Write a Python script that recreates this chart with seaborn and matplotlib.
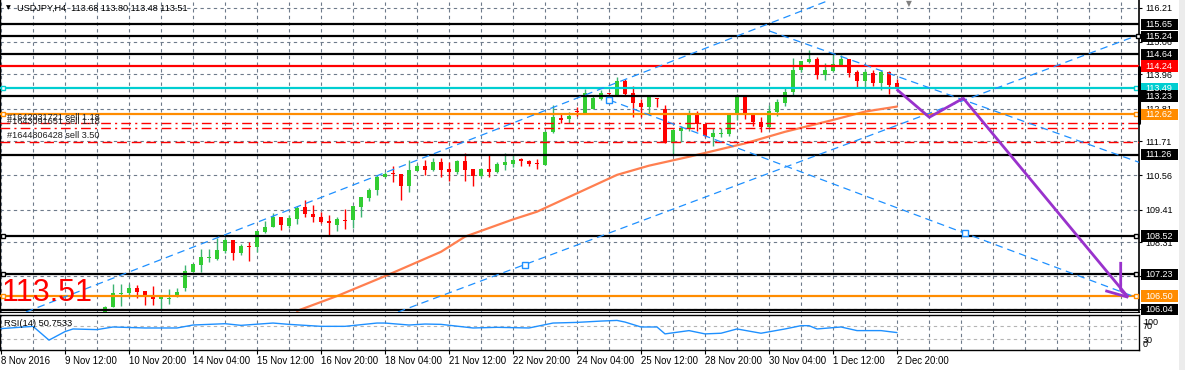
import numpy as np
import pandas as pd
import matplotlib
matplotlib.use("Agg")
import matplotlib.pyplot as plt
import seaborn as sns
from matplotlib.patches import Rectangle

# ---------------- data ----------------
title_text = "USDJPY,H4  113.68 113.80 113.48 113.51"
first_bar = 13  # index of the first visible candle (bar 0 = 8 Nov 2016)
opens = [105.90, 106.12, 106.57, 106.59, 106.77, 106.67, 106.50, 106.39, 106.41, 106.50,
         106.78, 107.32, 107.55, 107.79, 107.76, 108.03, 108.39, 107.96, 108.17, 108.16,
         108.67, 108.81, 109.16, 108.87, 109.10, 109.49, 109.26, 109.16, 109.03, 108.89,
         109.07, 109.06, 109.51, 109.80, 110.07, 110.52, 110.64, 110.61, 110.22, 110.72,
         110.88, 110.74, 111.02, 110.77, 110.67, 111.05, 110.77, 110.54, 110.77, 110.67,
         110.91, 110.95, 111.11, 111.05, 110.99, 110.91, 112.03, 112.49, 112.46, 112.72,
         112.65, 112.79, 113.12, 113.31, 113.27, 113.74, 113.33, 112.99, 112.85, 113.16,
         112.79, 111.67, 112.07, 112.11, 112.60, 112.29, 111.87, 111.97, 111.95, 112.60,
         113.19, 112.60, 112.35, 112.20, 112.71, 112.99, 113.36, 114.11, 114.39, 114.47,
         113.94, 114.09, 114.26, 114.47, 114.05, 113.75, 114.00, 113.66, 114.05, 113.68]
highs = [106.16, 106.91, 106.91, 106.91, 106.87, 106.67, 106.84, 106.46, 106.74, 106.77,
         107.55, 107.58, 108.08, 108.10, 108.44, 108.44, 108.39, 108.25, 108.31, 108.69,
         109.03, 109.29, 109.16, 109.23, 109.53, 109.73, 109.57, 109.34, 109.23, 109.15,
         109.42, 109.53, 109.82, 110.13, 110.58, 110.69, 110.88, 110.61, 111.08, 110.94,
         111.08, 111.14, 111.14, 111.02, 111.08, 111.31, 110.77, 110.80, 111.25, 111.02,
         111.31, 111.25, 111.16, 111.08, 111.10, 112.05, 112.93, 112.65, 112.71, 112.88,
         113.46, 113.27, 113.44, 113.35, 113.86, 113.80, 113.57, 113.12, 113.21, 113.16,
         112.92, 112.09, 112.23, 112.76, 112.73, 112.29, 112.17, 112.17, 112.65, 113.30,
         113.19, 112.60, 112.52, 112.93, 113.12, 113.49, 114.50, 114.41, 114.78, 114.54,
         114.34, 114.67, 114.62, 114.47, 114.11, 114.11, 114.11, 114.11, 114.09, 113.80]
lows = [105.85, 106.12, 106.17, 106.48, 106.42, 106.20, 106.20, 106.03, 106.23, 106.48,
        106.68, 107.32, 107.32, 107.66, 107.71, 107.96, 107.71, 107.88, 107.69, 107.97,
        108.61, 108.81, 108.72, 108.78, 108.93, 109.17, 109.00, 108.95, 108.52, 108.70,
        108.76, 108.78, 109.17, 109.71, 109.90, 110.50, 110.35, 109.73, 110.02, 110.72,
        110.58, 110.72, 110.50, 110.39, 110.61, 110.39, 110.21, 110.52, 110.50, 110.63,
        110.74, 110.86, 110.88, 110.88, 110.78, 110.91, 111.98, 112.32, 112.34, 112.55,
        112.65, 112.79, 113.10, 113.24, 113.25, 113.25, 112.52, 112.52, 112.60, 112.85,
        111.67, 111.28, 111.68, 112.07, 112.07, 111.84, 111.56, 111.87, 111.89, 112.43,
        112.45, 112.23, 112.01, 112.11, 112.56, 112.90, 113.27, 114.05, 114.36, 113.81,
        113.77, 114.05, 114.26, 113.89, 113.49, 113.53, 113.57, 113.44, 113.29, 113.48]
closes = [106.14, 106.59, 106.61, 106.77, 106.65, 106.48, 106.39, 106.46, 106.44, 106.64,
          107.34, 107.58, 107.80, 107.81, 108.05, 108.39, 107.96, 108.18, 108.15, 108.69,
          108.82, 109.16, 108.90, 109.13, 109.45, 109.27, 109.15, 109.00, 108.95, 109.08,
          109.04, 109.53, 109.82, 110.07, 110.52, 110.61, 110.60, 110.22, 110.74, 110.88,
          110.74, 111.02, 110.74, 110.69, 111.05, 110.74, 110.54, 110.77, 110.67, 110.95,
          111.02, 111.08, 111.06, 110.95, 110.95, 112.03, 112.54, 112.44, 112.56, 112.70,
          113.33, 113.18, 113.35, 113.30, 113.74, 113.30, 113.01, 112.85, 113.21, 113.15,
          111.67, 112.09, 112.17, 112.65, 112.29, 111.89, 112.00, 111.98, 112.60, 113.19,
          112.60, 112.35, 112.20, 112.73, 113.04, 113.36, 114.11, 114.41, 114.47, 113.94,
          114.11, 114.30, 114.47, 114.02, 113.75, 114.05, 113.66, 114.05, 113.61, 113.51]

# moving average (orange) sampled along the curve
ma_idx = [37, 42, 48, 55, 58, 64, 67, 72, 77, 81, 86, 93, 98, 104, 108, 112]
ma_val = [106.00, 106.50, 107.17, 107.99, 108.50, 109.08, 109.34, 109.96, 110.58,
          110.89, 111.19, 111.64, 112.03, 112.43, 112.71, 112.88]

# RSI(14) sampled along the curve
rsi_idx = [0, 4, 6, 8, 9, 12, 14, 18, 22, 24, 28, 30, 34, 36, 40, 43, 47, 48, 51, 53, 55,
           59, 62, 66, 67, 69, 72, 75, 77, 78, 80, 82, 83, 86, 88, 90, 92, 95, 98, 100,
           101, 102, 105, 107, 110, 112]
rsi_val = [63, 70, 28, 54, 62, 60, 68, 65, 65, 74, 78, 73, 80, 76, 70, 70, 80, 80, 74, 77,
           76, 65, 67, 65, 70, 80, 82, 86, 88, 83, 68, 68, 47, 57, 47, 49, 62, 49, 62, 72,
           72, 62, 68, 57, 57, 51]
rsi_label = "RSI(14) 50.7533"
rsi_axis_labels = ["100", "70", "30", "0"]

date_labels = ["8 Nov 2016", "9 Nov 12:00", "10 Nov 20:00", "14 Nov 04:00", "15 Nov 12:00",
               "16 Nov 20:00", "18 Nov 04:00", "21 Nov 12:00", "22 Nov 20:00", "24 Nov 04:00",
               "25 Nov 12:00", "28 Nov 20:00", "30 Nov 04:00", "1 Dec 12:00", "2 Dec 20:00"]

grid_prices = [116.21, 115.06, 113.96, 112.81, 111.71, 110.56, 109.41, 108.31, 107.16, 106.06]
level_prices = [115.65, 115.24, 114.64, 114.24, 113.49, 113.23, 112.62, 111.26,
                108.52, 107.23, 106.50, 106.04]
level_colors = ["black", "black", "black", "#FF0000", "#00CED1", "black", "#FF8C00", "black",
                "black", "black", "#FF8C00", "black"]
order_prices = [112.34, 112.16, 111.68]
order_texts = ["#1642931721 sell 1.18", "#1643091651 sell 1.18", "#1644806428 sell 3.50"]
big_price_text = "113.51"

# channel / trend lines: (bar index, price) anchors
lineA = ([11.125, 103.625], [106.80, 116.47])   # infinite
lineB = ([50.29, 141.10], [106.03, 115.18])     # infinite
lineC = ([76.04, 120.54], [113.10, 108.61])     # ray from first anchor
lineD = ([96.10, 142.40], [115.42, 110.99])     # ray from first anchor
lineB_marker = (65.54, 107.56)

# purple projection arrow
arrow_idx = [111.96, 116.04, 120.29, 140.90]
arrow_price = [113.46, 112.52, 113.16, 106.46]
barb1_idx = [139.96, 139.96, 140.90]
barb1_price = [107.65, 106.70, 106.46]
barb2_idx = [138.04, 140.90]
barb2_price = [106.68, 106.46]

# ---------------- layout ----------------
W, H = 1185, 370
XMIN, XMAX = -0.125, 142.25
YMIN, YMAX = 105.963, 116.468
MAIN_H = 312
PLOT_W = 1139

sns.set_theme(style="white")
plt.rcParams['font.family'] = ['Liberation Sans', 'DejaVu Sans']

fig = plt.figure(figsize=(W / 100, H / 100), dpi=100)
fig.patch.set_facecolor("white")
ax = fig.add_axes([0, 1 - MAIN_H / H, PLOT_W / W, MAIN_H / H])
rax = fig.add_axes([0, 1 - 350 / H, PLOT_W / W, 35.5 / H])


def py2p(y):
    return YMAX - y / MAIN_H * (YMAX - YMIN)


GRID_KW = dict(color="#6E7B8B", linestyle=(0, (3, 3)), linewidth=0.8)

# ---- main pane ----
ax.set_xlim(XMIN, XMAX)
ax.set_ylim(YMIN, YMAX)
ax.set_facecolor("white")
ax.set_xticks(np.arange(0, 141, 4))
ax.tick_params(axis="x", length=0, labelbottom=False)
ax.yaxis.tick_right()
ax.set_yticks(grid_prices)
ax.set_yticklabels([f"{p:.2f}" for p in grid_prices])
ax.tick_params(axis="y", direction="out", length=2.2, width=0.8, pad=2.6,
               labelsize=6.5, colors="black", right=True, left=False)
ax.grid(True, which="major", **GRID_KW)
ax.set_axisbelow(True)
for s in ["left", "right", "bottom"]:
    ax.spines[s].set_visible(True)
    ax.spines[s].set_color("black")
ax.spines["left"].set_linewidth(1.0)
ax.spines["right"].set_linewidth(1.2)
ax.spines["bottom"].set_linewidth(0.8)
ax.spines["top"].set_visible(False)

# candles
idx = np.arange(first_bar, first_bar + len(opens))
df = pd.DataFrame(dict(i=idx, o=opens, h=highs, l=lows, c=closes))
up = (df.c >= df.o).to_numpy()
body_col = np.where(up, "#32CD32", "#FF0000")
wick_col = np.where(up, "#3CB371", "#FF0000")
ax.vlines(df.i, df.l, df.h, colors=wick_col, linewidth=1.0, zorder=3)
ax.bar(df.i, np.maximum((df.c - df.o).abs(), 0.035), bottom=np.minimum(df.o, df.c),
       width=0.62, color=body_col, linewidth=0, zorder=3)

# moving average
sns.lineplot(x=ma_idx, y=ma_val, ax=ax, color="#FF7F50", linewidth=1.6, zorder=3.5,
             legend=False)

# horizontal levels
for p, c in zip(level_prices, level_colors):
    ax.axhline(p, color=c, linewidth=1.6, zorder=4)
order_styles = [(0, (7, 3, 1.5, 3)), (0, (7, 3, 1.5, 3)), (0, (7, 3.5))]
for p, ls in zip(order_prices, order_styles):
    ax.axhline(p, color="#FF0000", linewidth=1.0, linestyle=ls, zorder=4)

# level end markers
sq_kw = dict(marker="s", markersize=3.4, markerfacecolor="white", markeredgewidth=1.0,
             linestyle="none", zorder=6, clip_on=False)
left_sq = [113.49, 112.62, 108.52, 107.23, 106.50]
for p in left_sq:
    c = level_colors[level_prices.index(p)]
    ax.plot([0.25], [p], markeredgecolor=c, **sq_kw)
    ax.plot([141.85], [p], markeredgecolor=c, **sq_kw)
ax.plot([142.1], [115.24], markeredgecolor="black", **sq_kw)

# blue dashed channel lines
blue_kw = dict(color="#1E90FF", linewidth=0.9, linestyle=(0, (6, 4)), zorder=4)
ax.axline((lineA[0][0], lineA[1][0]), (lineA[0][1], lineA[1][1]), **blue_kw)
ax.axline((lineB[0][0], lineB[1][0]), (lineB[0][1], lineB[1][1]), **blue_kw)
for ln in (lineC, lineD):
    (x0, x1), (p0, p1) = ln
    slope = (p1 - p0) / (x1 - x0)
    ax.plot([x0, XMAX], [p0, p0 + slope * (XMAX - x0)], **blue_kw)
bsq = dict(marker="s", markersize=4.2, markerfacecolor="white", markeredgecolor="#1E90FF",
           markeredgewidth=1.0, linestyle="none", zorder=5)
ax.plot([lineC[0][0]], [lineC[1][0]], **bsq)
ax.plot([lineC[0][1]], [lineC[1][1]], **bsq)
ax.plot([lineB_marker[0]], [lineB_marker[1]], **bsq)

# purple arrow
pur = dict(color="#9932CC", linewidth=2.0, zorder=5, solid_capstyle="butt")
ax.plot(arrow_idx, arrow_price, **pur)
ax.plot(barb1_idx, barb1_price, **pur)
ax.plot(barb2_idx, barb2_price, **pur)

# right-edge spread marker
ax.plot([1, 1], [py2p(66.7), py2p(123)], transform=ax.get_yaxis_transform(),
        color="black", linewidth=2.2, clip_on=False, zorder=6)

# price boxes on the right axis
tr = ax.get_yaxis_transform()
bw = 37 / PLOT_W
bh = 11.5 / MAIN_H * (YMAX - YMIN)
for p, c in zip(level_prices, level_colors):
    ax.add_patch(Rectangle((1141 / PLOT_W, p - bh / 2), bw, bh, transform=tr,
                           facecolor=c, edgecolor="none", clip_on=False, zorder=7))
    ax.text(1145.5 / PLOT_W, p, f"{p:.2f}", transform=tr, color="white", fontsize=6.5,
            ha="left", va="center", zorder=8, clip_on=False)

# texts
ax.text(17 / PLOT_W, 1 - 8 / MAIN_H, title_text, transform=ax.transAxes, fontsize=6.6,
        color="black", ha="left", va="center", zorder=9)
ax.text(8 / PLOT_W, 1 - 8 / MAIN_H, "\u25BC", transform=ax.transAxes, fontsize=4.5,
        color="black", ha="center", va="center", family=["DejaVu Sans"], zorder=9)
ax.text(113.5, py2p(3.5), "\u25BC", fontsize=5.5, color="#808080", ha="center", va="center",
        family=["DejaVu Sans"], zorder=9)
for t, y in zip(order_texts, [117.5, 122.0, 136.0]):
    ax.text(7 / PLOT_W, py2p(y), t, transform=tr, fontsize=6.6, color="#202020",
            ha="left", va="center", zorder=9)
ax.text(2 / PLOT_W, py2p(301.5), big_price_text, transform=tr, fontsize=22,
        color="#FF0000", ha="left", va="baseline", zorder=9)

# ---- RSI pane ----
rax.set_xlim(XMIN, XMAX)
rax.set_ylim(-2, 106)
rax.set_facecolor("white")
rax.set_yticks([])
rax.set_xticks(np.arange(0, 113, 8))
rax.set_xticklabels(date_labels)
rax.set_xticks(np.arange(0, 141, 4), minor=True)
rax.tick_params(axis="x", which="major", direction="out", length=3, width=0.8,
                pad=1.5, labelsize=6.9, colors="black", bottom=True)
rax.tick_params(axis="x", which="minor", length=0)
for lbl in rax.get_xticklabels():
    lbl.set_horizontalalignment("left")
rax.grid(True, axis="x", which="both", **GRID_KW)
for lvl in (70, 30):
    rax.axhline(lvl, color="#B4B4B4", linestyle=(0, (3, 3)), linewidth=0.8, zorder=1)
for s in rax.spines.values():
    s.set_visible(True)
    s.set_color("black")
    s.set_linewidth(1.0)
sns.lineplot(x=rsi_idx, y=rsi_val, ax=rax, color="#1E90FF", linewidth=1.0, legend=False,
             zorder=3)
rax.text(4 / PLOT_W, 0.75, rsi_label, transform=rax.transAxes, fontsize=6.7,
         color="black", ha="left", va="center", zorder=5)
rtr = rax.get_yaxis_transform()
for t, v in zip(rsi_axis_labels, [83, 68, 28, 16]):
    rax.text(1143 / PLOT_W, v, t, transform=rtr, fontsize=6.5, color="black",
             ha="left", va="center", clip_on=False)
rax.set_xlabel("")
rax.set_ylabel("")
ax.set_xlabel("")
ax.set_ylabel("")

# window edge strip
fig.patches.append(Rectangle((1179 / W, 0), 6 / W, 1, transform=fig.transFigure,
                             facecolor="#ECECEC", edgecolor="none", zorder=0))

fig.savefig("out.png", dpi=100, facecolor="white")
